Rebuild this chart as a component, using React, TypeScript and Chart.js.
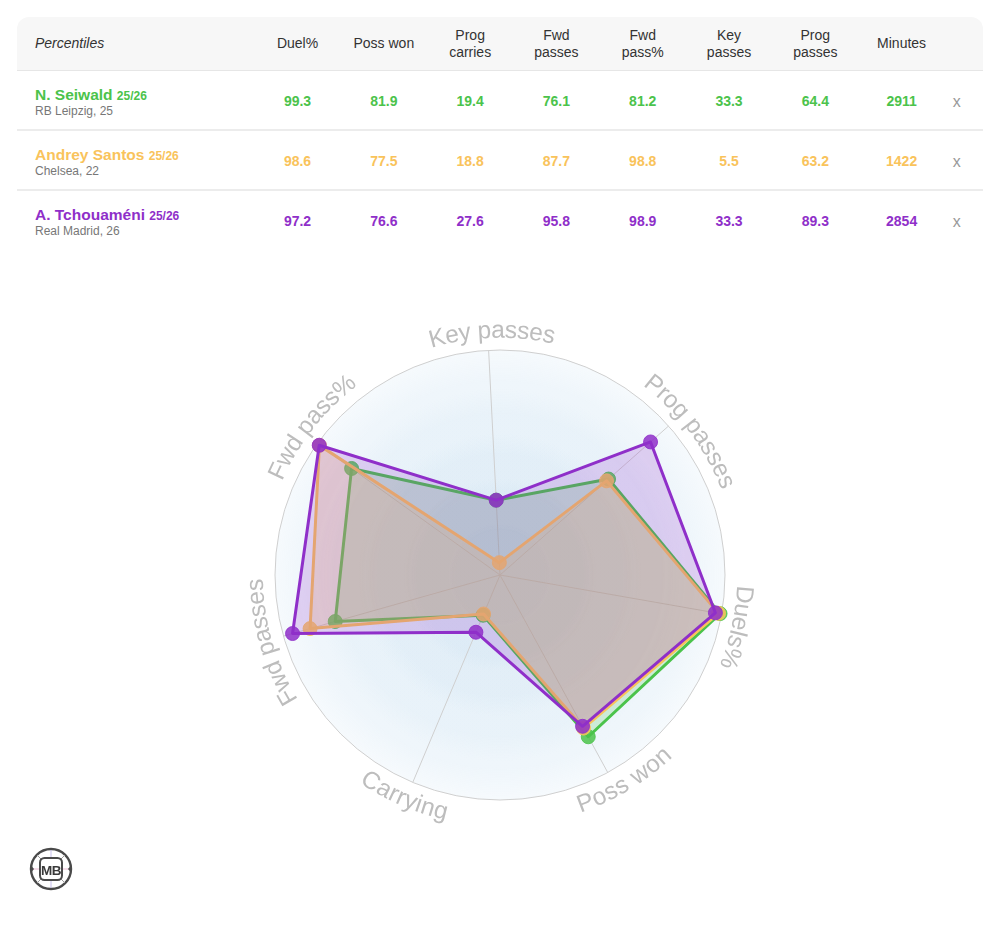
import React, { useEffect, useRef } from "react";
import { Chart, registerables } from "chart.js";

Chart.register(...registerables);

// ---------- data ----------
const headerLines: string[][] = [
  ["Duel%"],
  ["Poss won"],
  ["Prog", "carries"],
  ["Fwd", "passes"],
  ["Fwd", "pass%"],
  ["Key", "passes"],
  ["Prog", "passes"],
  ["Minutes"],
];

const playerNames = ["N. Seiwald", "Andrey Santos", "A. Tchouaméni"];
const playerSeasons = ["25/26", "25/26", "25/26"];
const playerInfo = ["RB Leipzig, 25", "Chelsea, 22", "Real Madrid, 26"];
const playerColors = ["#4bc34b", "#f9c35b", "#8f2fc9"];

// table order: Duel%, Poss won, Prog carries, Fwd passes, Fwd pass%, Key passes, Prog passes
const seiwaldValues = [99.3, 81.9, 19.4, 76.1, 81.2, 33.3, 64.4];
const santosValues = [98.6, 77.5, 18.8, 87.7, 98.8, 5.5, 63.2];
const tchouameniValues = [97.2, 76.6, 27.6, 95.8, 98.9, 33.3, 89.3];
const playerMinutes = [2911, 1422, 2854];

const radarLabels = ["Key passes", "Prog passes", "Duels%", "Poss won", "Carrying", "Fwd passes", "Fwd pass%"];
// which table column feeds each radar axis
const radarColumnIndex = [5, 6, 0, 1, 2, 3, 4];

const playerValues = [seiwaldValues, santosValues, tchouameniValues];
// drawing order: purple on top, orange, green at the bottom
const radarDrawOrder = [2, 1, 0];

// style: small angular nudges (degrees, clockwise) of the curved axis titles
const labelNudgeDeg = [1, 4.5, 2.5, -2.5, 0.5, -0.5, 2.5];

const FONT = "'Liberation Sans', Arial, Helvetica, sans-serif";

function rgba(hex: string, a: number) {
  const n = parseInt(hex.slice(1), 16);
  return `rgba(${(n >> 16) & 255},${(n >> 8) & 255},${n & 255},${a})`;
}

const bandsPlugin = {
  id: "bands",
  beforeDraw(chart: any) {
    const s = chart.scales.r;
    if (!s) return;
    const ctx = chart.ctx;
    const R = s.drawingArea;
    const cx = s.xCenter;
    const cy = s.yCenter;
    ctx.save();
    ctx.beginPath();
    ctx.arc(cx, cy, R, 0, Math.PI * 2);
    ctx.fillStyle = "rgba(226,240,249,0.3)";
    ctx.fill();
    const fracs = [1.0, 0.83, 0.63, 0.43, 0.23];
    for (const f of fracs) {
      const r = R * f;
      const g = ctx.createRadialGradient(cx, cy, 0, cx, cy, r);
      g.addColorStop(0, "rgba(175,208,232,0.10)");
      g.addColorStop(0.86, "rgba(175,208,232,0.10)");
      g.addColorStop(1, "rgba(175,208,232,0)");
      ctx.fillStyle = g;
      ctx.beginPath();
      ctx.arc(cx, cy, r, 0, Math.PI * 2);
      ctx.fill();
    }
    ctx.restore();
  },
};

function drawArcText(ctx: CanvasRenderingContext2D, text: string, cx: number, cy: number, r: number, center: number, flip: boolean) {
  const total = ctx.measureText(text).width;
  for (let i = 0; i < text.length; i++) {
    const ch = text[i];
    const w = ctx.measureText(ch).width;
    const prefix = ctx.measureText(text.slice(0, i)).width;
    const s = (prefix + w / 2 - total / 2) / r;
    const theta = flip ? center - s : center + s;
    const x = cx + r * Math.sin(theta);
    const y = cy - r * Math.cos(theta);
    ctx.save();
    ctx.translate(x, y);
    ctx.rotate(flip ? theta - Math.PI : theta);
    ctx.fillText(ch, 0, 0);
    ctx.restore();
  }
}

const arcLabelsPlugin = {
  id: "arcLabels",
  afterDraw(chart: any) {
    const s = chart.scales.r;
    if (!s) return;
    const ctx = chart.ctx;
    ctx.save();
    ctx.font = `24.5px ${FONT}`;
    ctx.fillStyle = "#bdbdbd";
    ctx.textAlign = "center";
    ctx.textBaseline = "middle";
    const labels: string[] = chart.data.labels;
    labels.forEach((lab, i) => {
      const theta = s.getIndexAngle(i) + ((labelNudgeDeg[i] || 0) * Math.PI) / 180;
      const flip = Math.cos(theta) < -0.5;
      drawArcText(ctx, lab, s.xCenter, s.yCenter, s.drawingArea + 19, theta, flip);
    });
    ctx.restore();
  },
};

function RadarChart() {
  const ref = useRef<HTMLCanvasElement | null>(null);
  useEffect(() => {
    if (!ref.current) return;
    const datasets = radarDrawOrder.map((p) => ({
      label: playerNames[p],
      data: radarColumnIndex.map((c) => playerValues[p][c]),
      borderColor: playerColors[p],
      backgroundColor: rgba(playerColors[p], p === 1 ? 0.25 : 0.2),
      borderWidth: 3,
      fill: true,
      pointRadius: 7,
      pointBackgroundColor: rgba(playerColors[p], 0.85),
      pointBorderColor: rgba(playerColors[p], 0.85),
      pointBorderWidth: 1,
      borderJoinStyle: "round" as const,
    }));
    const chart = new Chart(ref.current, {
      type: "radar",
      data: { labels: radarLabels, datasets },
      options: {
        animation: false,
        responsive: true,
        maintainAspectRatio: false,
        events: [],
        layout: { padding: { left: 267, right: 267, top: 75, bottom: 75 } },
        plugins: { legend: { display: false }, tooltip: { enabled: false } },
        scales: {
          r: {
            min: 0,
            max: 100,
            startAngle: -2.9,
            ticks: { display: false, stepSize: 20 },
            grid: {
              circular: true,
              color: (c: any) => (c.tick && c.tick.value === 100 ? "#cfcfcf" : "rgba(0,0,0,0)"),
              lineWidth: 1,
            },
            angleLines: { color: "#cfcfcf", lineWidth: 1 },
            pointLabels: { display: false },
          },
        },
      },
      plugins: [bandsPlugin, arcLabelsPlugin],
    } as any);
    return () => chart.destroy();
  }, []);
  return <canvas ref={ref} />;
}

function Logo() {
  return (
    <svg width="44" height="44" viewBox="0 0 44 44">
      <circle cx="22" cy="22" r="20" fill="#fff" stroke="#4a4a4a" strokeWidth="2.4" />
      <line x1="22" y1="3" x2="22" y2="41" stroke="#b8aee8" strokeWidth="0.8" />
      <line x1="3" y1="22" x2="41" y2="22" stroke="#e6a8c8" strokeWidth="0.8" />
      <line x1="13" y1="13" x2="8" y2="8" stroke="#999" strokeWidth="1" />
      <line x1="31" y1="13" x2="36" y2="8" stroke="#999" strokeWidth="1" />
      <line x1="13" y1="31" x2="8" y2="36" stroke="#999" strokeWidth="1" />
      <line x1="31" y1="31" x2="36" y2="36" stroke="#999" strokeWidth="1" />
      <path d="M2.5 19 L5 22 L2.5 25 Z" fill="#4a4a4a" />
      <path d="M41.5 19 L39 22 L41.5 25 Z" fill="#4a4a4a" />
      <rect x="11" y="11" width="22" height="22" rx="4.5" fill="#fff" stroke="#4a4a4a" strokeWidth="2" />
      <text x="22" y="27.5" textAnchor="middle" fontFamily={FONT} fontWeight="bold" fontSize="13.5" fill="#3a3a3a" letterSpacing="-0.6">
        MB
      </text>
    </svg>
  );
}

const NAME_W = 237.4;
const COL_W = 86.3;

function CompareTable() {
  const cell: React.CSSProperties = {
    width: COL_W,
    flex: "none",
    textAlign: "center",
  };
  return (
    <div style={{ position: "absolute", left: 9, top: 9, width: 966, fontFamily: FONT }}>
      <div
        style={{
          height: 53,
          background: "#f7f7f7",
          borderRadius: "12px 12px 0 0",
          borderBottom: "1.5px solid #e6e6e6",
          display: "flex",
          alignItems: "center",
          fontSize: 14,
          color: "#333",
          lineHeight: "17px",
        }}
      >
        <div style={{ width: NAME_W, flex: "none", paddingLeft: 18, boxSizing: "border-box", fontStyle: "italic" }}>
          Percentiles
        </div>
        {headerLines.map((lines, i) => (
          <div key={i} style={cell}>
            {lines.map((l, j) => (
              <div key={j}>{l}</div>
            ))}
          </div>
        ))}
      </div>
      {playerNames.map((name, p) => (
        <div
          key={p}
          style={{
            height: 58,
            display: "flex",
            alignItems: "center",
            borderBottom: p < playerNames.length - 1 ? "2px solid #ececec" : "none",
            color: playerColors[p],
          }}
        >
          <div style={{ width: NAME_W, flex: "none", paddingLeft: 18, boxSizing: "border-box", marginTop: 3 }}>
            <div style={{ fontWeight: "bold", fontSize: 15.5, lineHeight: "17px", whiteSpace: "nowrap" }}>
              {name} <span style={{ fontSize: 12 }}>{playerSeasons[p]}</span>
            </div>
            <div style={{ fontSize: 12, color: "#777", lineHeight: "12px" }}>{playerInfo[p]}</div>
          </div>
          {playerValues[p].map((v, i) => (
            <div key={i} style={{ ...cell, fontWeight: "bold", fontSize: 14, paddingTop: 2 }}>
              {v.toFixed(1)}
            </div>
          ))}
          <div style={{ ...cell, fontWeight: "bold", fontSize: 14, paddingTop: 2 }}>{playerMinutes[p]}</div>
          <div style={{ flex: "none", paddingLeft: 8, paddingTop: 4, fontSize: 16, color: "#999" }}>x</div>
        </div>
      ))}
    </div>
  );
}

export default function App() {
  return (
    <div style={{ position: "relative", width: 984, height: 900, background: "#fff" }}>
      <CompareTable />
      <div style={{ position: "absolute", left: 0, top: 267, width: 984, height: 600 }}>
        <RadarChart />
      </div>
      <div style={{ position: "absolute", left: 21, top: 839, width: 44, height: 44 }}>
        <Logo />
      </div>
    </div>
  );
}
